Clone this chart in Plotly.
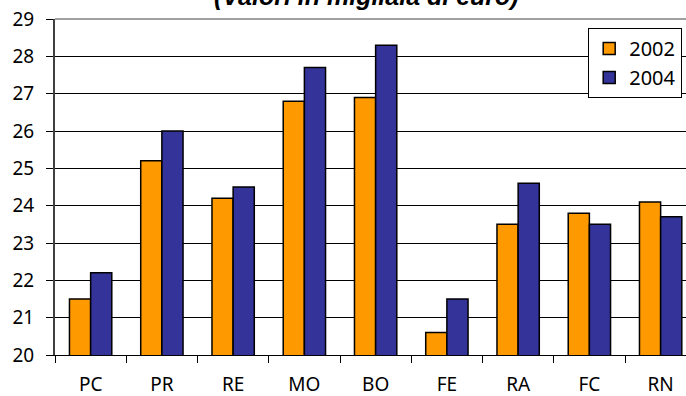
import plotly.graph_objects as go

categories = ["PC", "PR", "RE", "MO", "BO", "FE", "RA", "FC", "RN"]
values_2002 = [21.5, 25.2, 24.2, 26.8, 26.9, 20.6, 23.5, 23.8, 24.1]
values_2004 = [22.2, 26.0, 24.5, 27.7, 28.3, 21.5, 24.6, 23.5, 23.7]
series_names = ["2002", "2004"]
y_ticks = [20, 21, 22, 23, 24, 25, 26, 27, 28, 29]
title_text = "(Valori in migliaia di euro)"

fig = go.Figure()
fig.add_trace(go.Bar(x=categories, y=values_2002, name=series_names[0],
                     marker=dict(color="#FF9900", line=dict(color="#000000", width=1.5))))
fig.add_trace(go.Bar(x=categories, y=values_2004, name=series_names[1],
                     marker=dict(color="#333399", line=dict(color="#000000", width=1.5))))

fig.update_layout(
    width=686, height=396,
    margin=dict(l=55, r=0, t=19, b=41),
    paper_bgcolor="white", plot_bgcolor="white",
    barmode="group", bargap=0.406, bargroupgap=0,
    font=dict(family="Noto Sans", color="#000000"),
    showlegend=True,
    legend=dict(x=0.845, y=0.973, xanchor="left", yanchor="top",
                bgcolor="white", bordercolor="#000000", borderwidth=1,
                font=dict(size=20, family="Noto Sans"), tracegroupgap=0,
                itemwidth=30),
    xaxis=dict(type="category", range=[-0.5, 8.356],
               showline=True, linecolor="#000000", linewidth=1,
               ticks="outside", tickson="boundaries", ticklen=7, tickcolor="#000000",
               tickfont=dict(size=19), ticklabelstandoff=12, showgrid=False),
    yaxis=dict(range=[20, 29], tickvals=y_ticks,
               showline=True, linecolor="#404040", linewidth=2,
               ticks="outside", ticklen=7, tickcolor="#000000",
               tickfont=dict(size=19), ticklabelstandoff=8,
               showgrid=True, gridcolor="#000000", gridwidth=1, zeroline=False),
    annotations=[dict(text="<b><i>" + title_text + "</i></b>", xref="paper", yref="paper",
                      x=0.493, y=1, xanchor="center", yanchor="bottom", yshift=7,
                      showarrow=False, font=dict(size=25, family="Liberation Sans"))],
    shapes=[dict(type="line", xref="paper", yref="paper", x0=0, x1=1, y0=1, y1=1,
                 line=dict(color="#A0A0A0", width=2))],
)

fig.write_html("out.html", config={"displayModeBar": False},
               post_script="document.body.style.margin='0';document.body.style.overflow='hidden';")
